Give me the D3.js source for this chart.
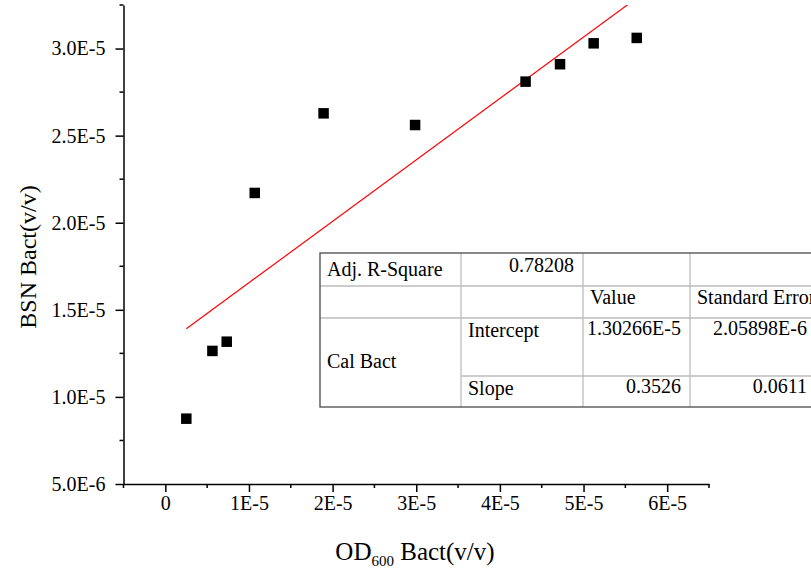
<!DOCTYPE html>
<html>
<head>
<meta charset="utf-8">
<script src="https://cdn.jsdelivr.net/npm/d3@7"></script>
<style>
  html, body { margin: 0; padding: 0; background: #fff; }
  svg { display: block; }
  svg text { font-family: "Liberation Serif", "Times New Roman", serif; fill: #000; }
</style>
</head>
<body>
<svg id="chart" width="811" height="569"></svg>
<script>
// Measured samples: optical density vs. BSN reading
const odValues  = [2.51e-6, 5.63e-6, 7.34e-6, 1.069e-5, 1.892e-5, 2.986e-5, 4.307e-5, 4.719e-5, 5.121e-5, 5.636e-5];
const bsnValues = [8.75e-6, 1.264e-5, 1.317e-5, 2.171e-5, 2.628e-5, 2.561e-5, 2.810e-5, 2.910e-5, 3.030e-5, 3.061e-5];

// Linear fit results
const fitIntercept = 1.30266e-5;
const fitSlope = 0.3526;

// Axis ticks
const xTickValues = [0, 1e-5, 2e-5, 3e-5, 4e-5, 5e-5, 6e-5];
const xTickLabels = ["0", "1E-5", "2E-5", "3E-5", "4E-5", "5E-5", "6E-5"];
const xMinorValues = [-5e-6, 5e-6, 1.5e-5, 2.5e-5, 3.5e-5, 4.5e-5, 5.5e-5, 6.5e-5];
const yTickValues = [5e-6, 1e-5, 1.5e-5, 2e-5, 2.5e-5, 3e-5];
const yTickLabels = ["5.0E-6", "1.0E-5", "1.5E-5", "2.0E-5", "2.5E-5", "3.0E-5"];
const yMinorValues = [7.5e-6, 1.25e-5, 1.75e-5, 2.25e-5, 2.75e-5, 3.25e-5];

// Fit summary table contents
const tableRows = [
  ["Adj. R-Square", "0.78208", "", ""],
  ["", "", "Value", "Standard Error"],
  ["Cal Bact", "Intercept", "1.30266E-5", "2.05898E-6"],
  ["", "Slope", "0.3526", "0.0611"]
];

const svg = d3.select("#chart");
const serif = '"Liberation Serif", "Times New Roman", serif';

const plot = { left: 123.5, right: 709, top: 5, bottom: 484 };

const x = d3.scaleLinear().domain([-5e-6, 6.5e-5]).range([plot.left, plot.right]);
const y = d3.scaleLinear().domain([5e-6, 3.25e-5]).range([plot.bottom, plot.top]);

svg.append("defs").append("clipPath").attr("id", "plotClip")
  .append("rect")
  .attr("x", plot.left).attr("y", plot.top)
  .attr("width", plot.right - plot.left).attr("height", plot.bottom - plot.top);

// Regression line over the measured range
const xExtent = d3.extent(odValues);
const fitLine = d3.line().x(d => x(d)).y(d => y(fitIntercept + fitSlope * d));
svg.append("path")
  .attr("clip-path", "url(#plotClip)")
  .attr("d", fitLine(xExtent))
  .attr("fill", "none")
  .attr("stroke", "#ff0000")
  .attr("stroke-width", 1.2);

// Data points as filled squares
const markerSize = 10.5;
svg.append("g").selectAll("rect")
  .data(d3.zip(odValues, bsnValues))
  .join("rect")
  .attr("x", d => x(d[0]) - markerSize / 2)
  .attr("y", d => y(d[1]) - markerSize / 2)
  .attr("width", markerSize)
  .attr("height", markerSize)
  .attr("fill", "#000");

// X axis
const xAxis = d3.axisBottom(x)
  .tickValues(xTickValues)
  .tickFormat((d, i) => xTickLabels[i])
  .tickSizeInner(8).tickSizeOuter(0).tickPadding(4);
const gx = svg.append("g").attr("transform", `translate(0,${plot.bottom})`).call(xAxis);
gx.append("g").selectAll("line")
  .data(xMinorValues).join("line")
  .attr("x1", d => x(d)).attr("x2", d => x(d))
  .attr("y1", 0).attr("y2", 4)
  .attr("stroke", "#000").attr("stroke-width", 1.5);

// Y axis
const yAxis = d3.axisLeft(y)
  .tickValues(yTickValues)
  .tickFormat((d, i) => yTickLabels[i])
  .tickSizeInner(8).tickSizeOuter(0).tickPadding(10);
const gy = svg.append("g").attr("transform", `translate(${plot.left},0)`).call(yAxis);
gy.append("g").selectAll("line")
  .data(yMinorValues).join("line")
  .attr("y1", d => y(d)).attr("y2", d => y(d))
  .attr("x1", 0).attr("x2", -4)
  .attr("stroke", "#000").attr("stroke-width", 1.5);

[gx, gy].forEach(g => {
  g.attr("font-family", serif).attr("font-size", 20);
  g.selectAll(".domain, .tick line").attr("stroke", "#000").attr("stroke-width", 1.5);
  g.selectAll(".tick text")
    .style("font-family", serif)
    .style("font-size", "20px")
    .attr("fill", "#000");
});

// Axis titles
const xTitle = svg.append("text")
  .attr("x", 415).attr("y", 560)
  .attr("text-anchor", "middle")
  .style("font-size", "25px");
xTitle.append("tspan").text("OD");
xTitle.append("tspan").style("font-size", "15px").attr("dy", 6).text("600");
xTitle.append("tspan").attr("dy", -6).text(" Bact(v/v)");

svg.append("text")
  .attr("transform", "translate(36,257) rotate(-90)")
  .attr("text-anchor", "middle")
  .style("font-size", "24px")
  .text("BSN Bact(v/v)");

// Fit summary table
const table = { left: 320, top: 253 };
const colWidths = [141, 122, 107, 126];
const rowHeights = [33, 32, 58, 31];
const labelBaseline = [23, 18, 19, 19];
const numberBaseline = [19, 18, 17, 17];
const colX = [table.left];
colWidths.forEach(w => colX.push(colX[colX.length - 1] + w));
const rowY = [table.top];
rowHeights.forEach(h => rowY.push(rowY[rowY.length - 1] + h));
const tableRight = colX[colX.length - 1];
const tableBottom = rowY[rowY.length - 1];

const gt = svg.append("g");
gt.append("rect")
  .attr("x", table.left).attr("y", table.top)
  .attr("width", tableRight - table.left).attr("height", tableBottom - table.top)
  .attr("fill", "#fff");

const gridColor = "#bdbdbd";
// horizontal inner lines (the first column is merged across the last two rows)
rowY.slice(1, -1).forEach((ry, i) => {
  const startX = (i === 2) ? colX[1] : table.left;
  gt.append("line")
    .attr("x1", startX).attr("x2", tableRight)
    .attr("y1", ry).attr("y2", ry)
    .attr("stroke", gridColor).attr("stroke-width", 1.3);
});
// vertical inner lines
colX.slice(1, -1).forEach(cx => {
  gt.append("line")
    .attr("x1", cx).attr("x2", cx)
    .attr("y1", table.top).attr("y2", tableBottom)
    .attr("stroke", gridColor).attr("stroke-width", 1.3);
});
// outer border
gt.append("rect")
  .attr("x", table.left).attr("y", table.top)
  .attr("width", tableRight - table.left).attr("height", tableBottom - table.top)
  .attr("fill", "none")
  .attr("stroke", "#4a4a4a").attr("stroke-width", 1.3);

const isNumber = s => /^[0-9.]/.test(s);
tableRows.forEach((row, r) => {
  row.forEach((cell, c) => {
    if (!cell) return;
    const numeric = isNumber(cell);
    let ty = rowY[r] + (numeric ? numberBaseline[r] : labelBaseline[r]);
    if (r === 2 && c === 0) ty = 368;          // merged cell, centred vertically
    gt.append("text")
      .attr("x", numeric ? colX[c + 1] - 9 : colX[c] + 7)
      .attr("y", ty)
      .attr("text-anchor", numeric ? "end" : "start")
      .style("font-size", "20px")
      .text(cell);
  });
});
</script>
</body>
</html>
